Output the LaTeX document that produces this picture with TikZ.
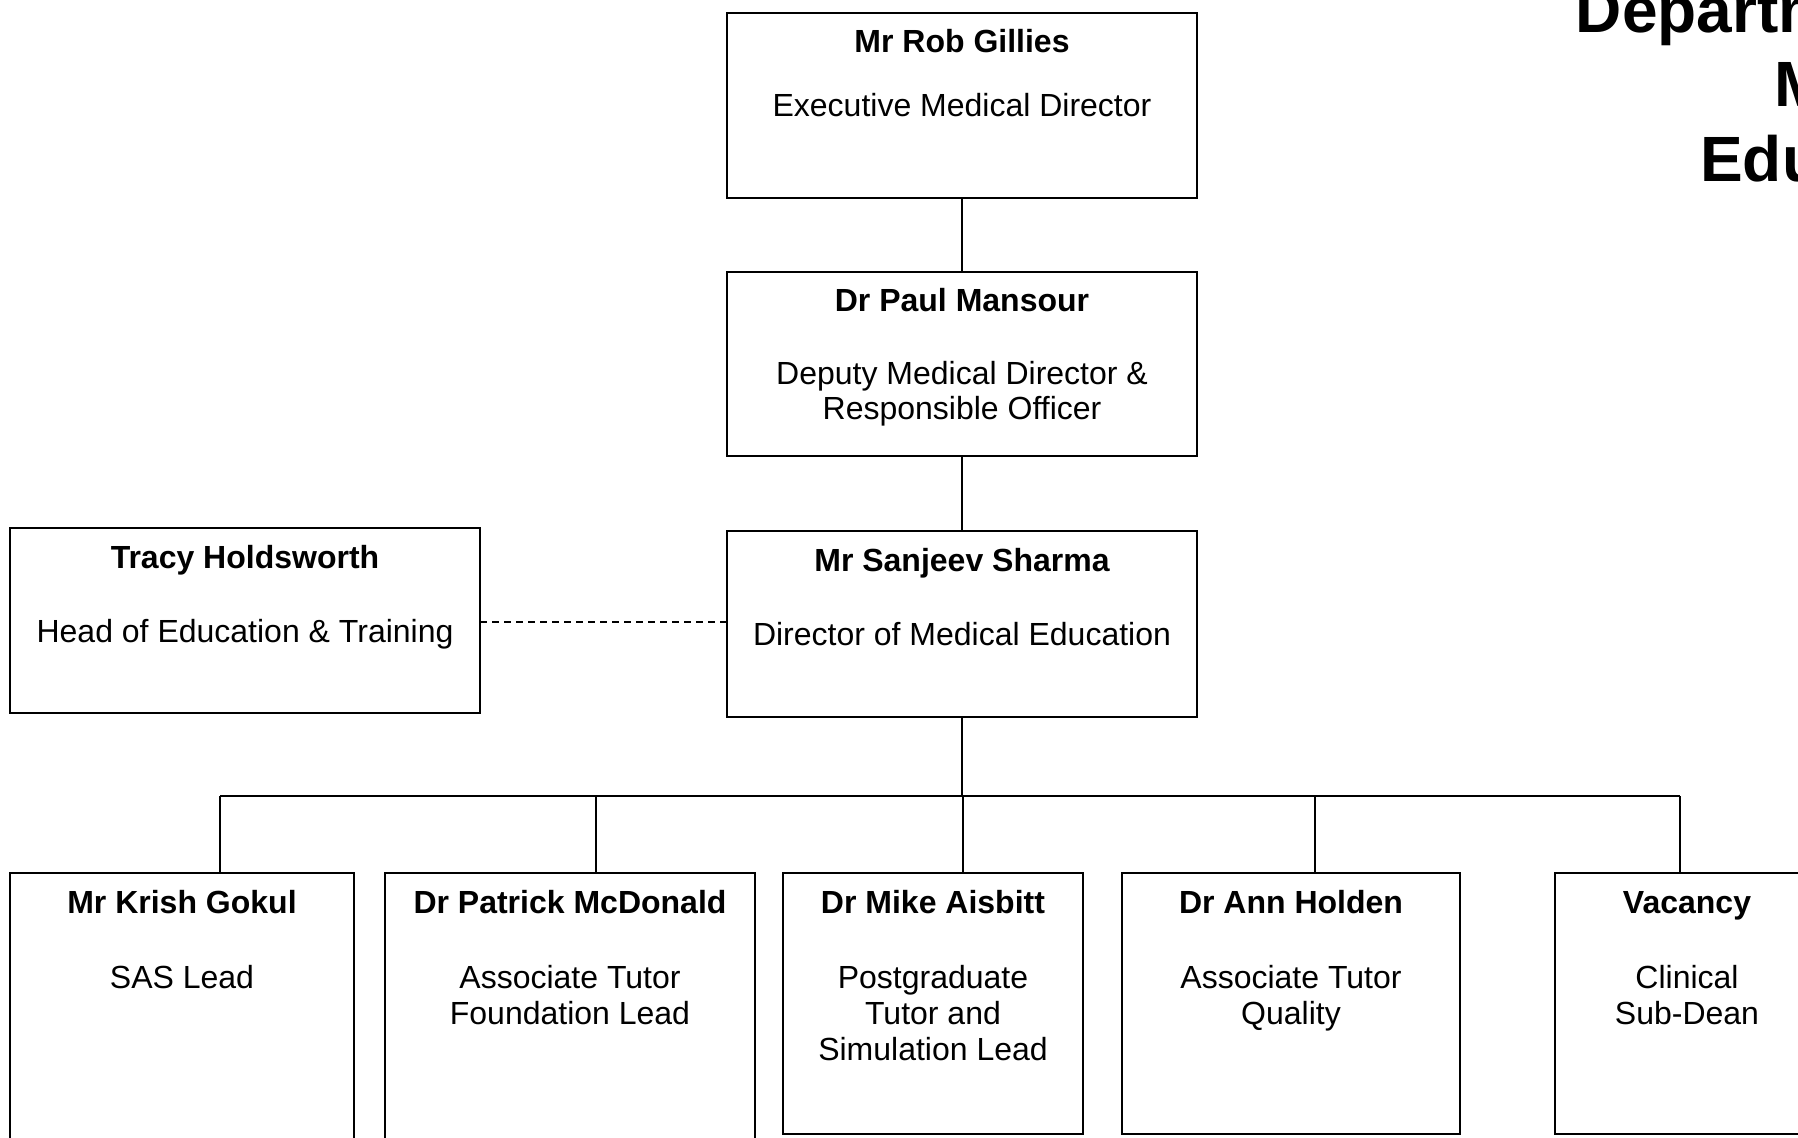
\documentclass[tikz,border=0pt]{standalone}
\usepackage{fontspec}
\setmainfont{Liberation Sans}
\begin{document}
\begin{tikzpicture}[x=0.5pt,y=-0.5pt,
  box/.style={draw=black,line width=1pt,rectangle,inner sep=0pt,outer sep=0pt,fill=none},
  nametext/.style={anchor=base,inner sep=0pt,font=\fontsize{16}{18}\selectfont\bfseries},
  roletext/.style={anchor=base,inner sep=0pt,align=center,font=\fontsize{16}{18}\selectfont},
  titletext/.style={anchor=base east,inner sep=0pt,font=\fontsize{32}{37}\selectfont\bfseries},
  link/.style={draw=black,line width=1pt},
  dotlink/.style={draw=black,line width=1pt,dash pattern=on 3.5pt off 2.5pt}]
\useasboundingbox[fill=white] (0,0) rectangle (1798,1138);

% title (runs off the right edge)
\node[titletext] (t1) at (2010,33) {Department of};
\node[titletext] (t2) at (2010,107) {Medical};
\node[titletext] (t3) at (2010,182) {Education};

% boxes
\node[box,minimum width=235pt,minimum height=92.5pt] (rob) at (962,105.5) {};
\node[box,minimum width=235pt,minimum height=92pt] (mansour) at (962,364) {};
\node[box,minimum width=235pt,minimum height=93pt] (sharma) at (962,624) {};
\node[box,minimum width=235pt,minimum height=92.5pt] (tracy) at (245,620.5) {};
\node[box,minimum width=172pt,minimum height=148.5pt] (krish) at (182,1021.5) {};
\node[box,minimum width=185pt,minimum height=148.5pt] (mcd) at (570,1021.5) {};
\node[box,minimum width=150pt,minimum height=130.5pt] (mike) at (933,1003.5) {};
\node[box,minimum width=169pt,minimum height=130.5pt] (ann) at (1291,1003.5) {};
\node[box,minimum width=132pt,minimum height=130.5pt] (vac) at (1687,1003.5) {};

% texts (a multi-line text is placed by the baseline of its last line)
\node[nametext] (robn) at (962,53) {Mr Rob Gillies};
\node[roletext] (robr) at (962,117) {Executive Medical Director};
\node[nametext] (mann) at (962,312) {Dr Paul Mansour};
\node[roletext,font=\fontsize{16}{17.5}\selectfont] (manr) at (962,420) {Deputy Medical Director \&\\Responsible Officer};
\node[nametext] (shn) at (962,571) {Mr Sanjeev Sharma};
\node[roletext] (shr) at (962,645) {Director of Medical Education};
\node[nametext] (trn) at (245,568) {Tracy Holdsworth};
\node[roletext] (trr) at (245,642) {Head of Education \& Training};
\node[nametext] (krn) at (182,913) {Mr Krish Gokul};
\node[roletext] (krr) at (182,988) {SAS Lead};
\node[nametext] (mcn) at (570,913) {Dr Patrick McDonald};
\node[roletext] (mcr) at (570,1024) {Associate Tutor\\Foundation Lead};
\node[nametext] (min) at (933,913) {Dr Mike Aisbitt};
\node[roletext] (mir) at (933,1060) {Postgraduate\\Tutor and\\Simulation Lead};
\node[nametext] (ann1) at (1291,913) {Dr Ann Holden};
\node[roletext] (annr) at (1291,1024) {Associate Tutor\\Quality};
\node[nametext] (vacn) at (1687,913) {Vacancy};
\node[roletext] (vacr) at (1687,1024) {Clinical\\Sub-Dean};

% connectors
\draw[link] (rob.south) -- (mansour.north);
\draw[link] (mansour.south) -- (sharma.north);
\coordinate (dy) at (0,622);
\draw[dotlink] (tracy.east |- dy) -- (sharma.west |- dy);
\coordinate (b1) at (220,796);
\coordinate (b2) at (596,796);
\coordinate (b3) at (963,796);
\coordinate (b4) at (1315,796);
\coordinate (b5) at (1680,796);
\draw[link] (sharma.south) -- (sharma.south |- b3);
\draw[link] (b1) -- (b5);
\draw[link] (b1) -- (b1 |- krish.north);
\draw[link] (b2) -- (b2 |- mcd.north);
\draw[link] (b3) -- (b3 |- mike.north);
\draw[link] (b4) -- (b4 |- ann.north);
\draw[link] (b5) -- (b5 |- vac.north);
\end{tikzpicture}
\end{document}
